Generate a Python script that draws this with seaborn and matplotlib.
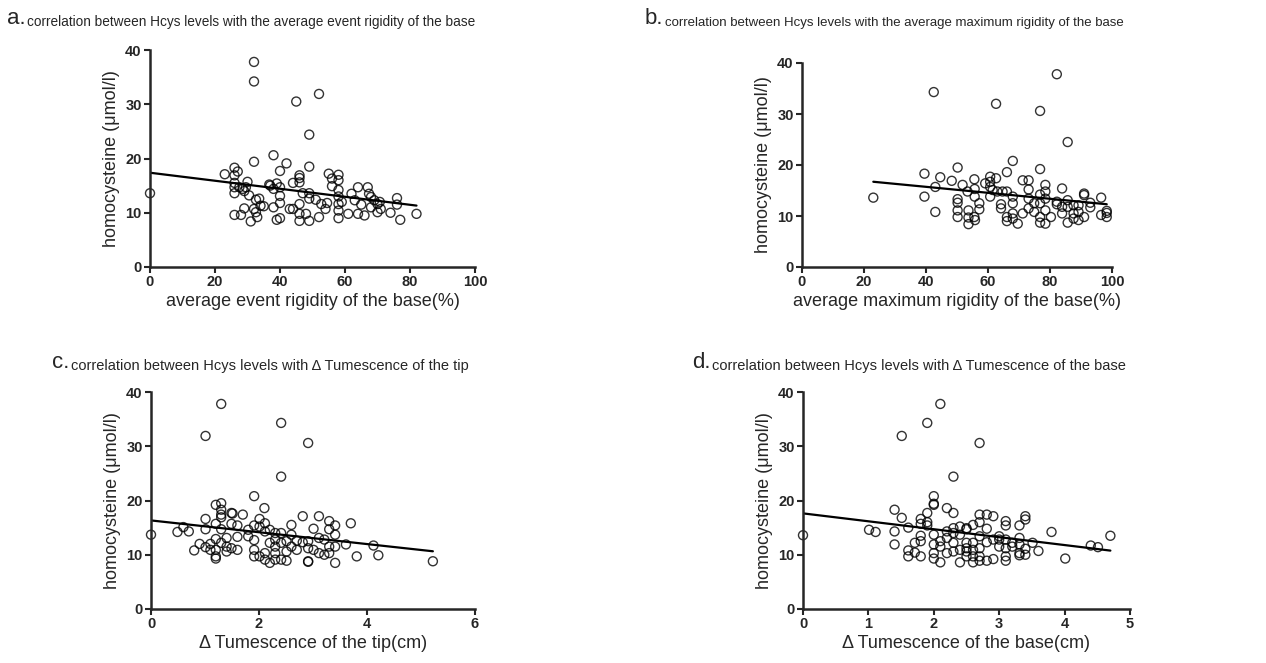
import numpy as np
import pandas as pd
import matplotlib
matplotlib.use("Agg")
import matplotlib.pyplot as plt
import seaborn as sns

# values
event_rigidity = [0, 32, 32, 45, 52, 49, 32, 38, 42, 40, 49, 23, 26, 27, 26, 26, 26, 26, 27.5, 28.5,
                  29.5, 30, 29, 30.5, 32.6, 33.6, 34, 35, 32, 32.6, 33, 31, 29, 28, 26, 36.7, 37, 38, 39, 40,
                  40, 40, 38, 39, 40, 43, 44, 44, 46, 46, 46, 47, 46, 46, 46, 48, 49, 49, 49, 51,
                  52, 52.7, 54, 54.5, 55, 56, 56, 58, 58, 58, 58, 58, 59, 58, 58, 61, 62, 63, 64, 64,
                  65, 66, 67, 67.4, 68, 68, 69, 70, 70.7, 70, 71, 74, 76, 76, 77, 82]
hcy_a = [13.6, 37.8, 34.2, 30.5, 31.9, 24.4, 19.4, 20.6, 19.1, 17.7, 18.5, 17.1, 18.3, 17.6, 16.9, 15.5, 13.6, 14.7, 14.7, 14.4,
         14.7, 15.7, 14.0, 13.2, 12.4, 12.6, 11.3, 11.2, 10.7, 10.1, 9.2, 8.4, 10.8, 9.6, 9.6, 15.2, 15.0, 14.4, 15.4, 14.7,
         13.1, 11.8, 11.0, 8.7, 9.0, 10.7, 10.7, 15.5, 16.9, 16.4, 15.6, 13.6, 11.6, 9.8, 8.5, 9.8, 8.5, 12.6, 13.6, 12.4,
         9.2, 11.6, 10.7, 11.8, 17.2, 16.3, 14.9, 17.0, 16.0, 14.2, 13.0, 11.6, 12.0, 10.4, 9.0, 9.8, 13.5, 12.3, 14.7, 9.8,
         11.5, 9.5, 14.7, 13.5, 12.9, 11.0, 12.3, 11.6, 12.0, 10.1, 10.7, 10.0, 11.5, 12.7, 8.7, 9.8]

max_rigidity = [23, 42.5, 62.6, 82.2, 76.8, 85.7, 68, 50.2, 39.5, 44.6, 48.3, 76.8, 66.1, 43, 39.5, 43, 51.8, 55.6, 55.7, 55.7,
                53.4, 50.2, 50.2, 50.2, 50.2, 53.7, 53.7, 53.7, 55.6, 55.8, 57.2, 57.2, 59.1, 60.7, 60.7, 60.7, 60.7, 61.5, 62.6, 63,
                64.7, 64.2, 64.2, 66.1, 66.1, 66.1, 68, 68, 68, 68, 69.6, 71.2, 71.2, 73.1, 73.1, 73.1, 73.1, 74.9, 74.9, 76.8,
                76.8, 76.8, 76.8, 78.5, 78.5, 78.5, 78.5, 78.5, 80.3, 82.2, 82.2, 83.9, 83.9, 83.9, 85.7, 85.7, 85.7, 87.6, 87.6, 87.6,
                89.2, 89.2, 89.2, 91, 91, 91, 93, 93, 96.5, 96.5, 98.3, 98.3, 98.3]
hcy_b = [13.6, 34.3, 32.0, 37.8, 30.6, 24.5, 20.8, 19.5, 18.3, 17.6, 16.9, 19.2, 18.6, 15.7, 13.8, 10.8, 16.1, 17.2, 15.3, 13.8,
         14.8, 13.3, 12.6, 11.1, 9.8, 11.1, 9.7, 8.4, 9.8, 9.2, 12.5, 11.3, 16.4, 17.7, 16.7, 15.7, 13.8, 15.1, 17.4, 14.8,
         14.8, 12.3, 11.5, 14.8, 9.8, 9.0, 13.8, 12.5, 10.5, 9.5, 8.5, 10.5, 17.0, 17.0, 15.2, 13.4, 11.5, 12.5, 10.8, 14.2,
         12.5, 9.8, 8.7, 16.1, 14.8, 13.4, 11.1, 8.5, 9.8, 12.3, 12.8, 15.4, 11.8, 10.5, 13.1, 11.8, 8.7, 12.1, 10.5, 9.5,
         12.1, 10.8, 9.2, 14.4, 14.1, 9.8, 12.6, 11.7, 13.6, 10.2, 11.0, 9.8, 10.6]

tip_tumescence = [0, 1.30, 1.01, 2.41, 2.91, 2.41, 1.91, 2.10, 1.20, 1.30, 1.30, 1.30, 1.30, 1.49, 1.51, 1.70, 1.01, 1.01, 0.49, 0.60,
                  0.70, 1.20, 1.30, 1.49, 1.60, 1.60, 1.40, 1.20, 1.30, 0.90, 1.01, 1.10, 1.10, 1.20, 0.80, 1.20, 1.20, 1.40, 1.40, 1.49,
                  1.60, 1.80, 1.80, 1.91, 1.91, 1.91, 1.91, 2.01, 2.01, 2.11, 2.11, 2.01, 2.11, 2.11, 2.20, 2.20, 2.20, 2.30, 2.30, 2.30,
                  2.30, 2.30, 2.41, 2.41, 2.41, 2.51, 2.51, 2.51, 2.60, 2.60, 2.60, 2.70, 2.70, 2.81, 2.81, 2.91, 2.91, 2.91, 2.91, 3.01,
                  3.01, 3.11, 3.11, 3.11, 3.21, 3.21, 3.30, 3.30, 3.30, 3.30, 3.41, 3.41, 3.41, 3.41, 3.61, 3.70, 3.81, 4.12, 4.21, 5.22]
hcy_c = [13.7, 37.8, 31.9, 34.3, 30.6, 24.4, 20.8, 18.6, 19.2, 19.5, 18.3, 17.4, 16.9, 17.7, 17.6, 17.4, 16.6, 14.7, 14.2, 15.1,
         14.3, 15.7, 14.7, 15.7, 15.4, 13.3, 13.1, 12.9, 12.2, 12.0, 11.4, 12.0, 10.9, 10.9, 10.8, 9.7, 9.3, 10.6, 11.5, 11.2,
         10.9, 14.6, 13.4, 15.4, 12.7, 10.9, 9.7, 16.6, 15.2, 15.8, 14.3, 9.7, 10.3, 9.1, 14.6, 12.2, 8.5, 14.0, 12.8, 11.5,
         10.3, 9.1, 14.0, 12.2, 9.1, 12.5, 10.6, 8.9, 15.5, 13.7, 11.5, 12.6, 10.9, 17.1, 12.3, 12.5, 11.2, 8.8, 8.7, 14.8,
         10.9, 17.1, 13.1, 10.3, 12.8, 10.0, 16.2, 14.7, 11.5, 10.3, 15.4, 13.7, 11.5, 8.5, 11.9, 15.8, 9.7, 11.7, 9.9, 8.8]

base_tumescence = [0, 2.10, 1.90, 1.51, 2.70, 2.30, 2.0, 2.0, 2.0, 2.20, 2.30, 1.40, 1.51, 1.90, 1.80, 1.80, 1.90, 1.90, 1.01, 1.11,
                   1.40, 1.61, 1.40, 1.61, 1.61, 1.71, 1.71, 1.80, 1.80, 1.80, 2.0, 2.0, 2.0, 2.0, 2.10, 2.10, 2.10, 2.20, 2.20, 2.20,
                   2.30, 2.30, 2.30, 2.30, 2.40, 2.40, 2.40, 2.40, 2.50, 2.50, 2.50, 2.50, 2.50, 2.50, 2.60, 2.60, 2.60, 2.60, 2.60, 2.70,
                   2.70, 2.70, 2.70, 2.70, 2.70, 2.81, 2.81, 2.81, 2.81, 2.91, 2.91, 2.91, 3.0, 3.0, 3.0, 3.10, 3.10, 3.10, 3.10, 3.10,
                   3.10, 3.20, 3.20, 3.31, 3.31, 3.31, 3.31, 3.31, 3.40, 3.40, 3.40, 3.40, 3.51, 3.60, 3.80, 4.01, 4.40, 4.51, 4.70]
hcy_d = [13.6, 37.8, 34.3, 31.9, 30.6, 24.4, 20.8, 19.4, 19.2, 18.6, 17.7, 18.3, 16.8, 17.7, 16.6, 15.7, 16.0, 15.4, 14.6, 14.2,
         14.3, 15.0, 11.9, 10.8, 9.7, 12.2, 10.4, 13.5, 12.5, 9.7, 13.7, 11.9, 10.3, 9.3, 12.5, 11.5, 8.6, 14.3, 13.1, 10.3,
         14.9, 14.0, 12.2, 10.6, 15.2, 13.7, 10.9, 8.6, 14.9, 14.7, 12.2, 11.2, 10.6, 9.7, 15.5, 12.2, 10.9, 9.7, 8.6, 17.4,
         16.0, 13.4, 11.2, 9.7, 8.9, 17.4, 14.8, 12.3, 8.9, 17.1, 12.8, 9.2, 13.4, 12.8, 11.5, 16.2, 15.4, 12.8, 11.2, 9.7,
         8.9, 12.2, 11.5, 15.4, 13.1, 11.9, 10.3, 9.9, 17.1, 16.5, 11.1, 10.0, 12.2, 10.7, 14.2, 9.3, 11.7, 11.4, 13.5]

panels = [
    ("a.", "correlation between Hcys levels with the average event rigidity of the base",
     event_rigidity, hcy_a, "average event rigidity of the base(%)", [0, 20, 40, 60, 80, 100]),
    ("b.", "correlation between Hcys levels with the average maximum rigidity of the base",
     max_rigidity, hcy_b, "average maximum rigidity of the base(%)", [0, 20, 40, 60, 80, 100]),
    ("c.", "correlation between Hcys levels with \u0394 Tumescence of the tip",
     tip_tumescence, hcy_c, "\u0394 Tumescence of the tip(cm)", [0, 2, 4, 6]),
    ("d.", "correlation between Hcys levels with \u0394 Tumescence of the base",
     base_tumescence, hcy_d, "\u0394 Tumescence of the base(cm)", [0, 1, 2, 3, 4, 5]),
]

sns.set_style("ticks")
plt.rcParams['font.family'] = ['Liberation Sans', 'DejaVu Sans']

W, H = 1266, 663
fig = plt.figure(figsize=(W / 100, H / 100), dpi=100)

# axes boxes in pixels: left, top, right, bottom
boxes = [(150, 50, 475, 267), (802, 63, 1112, 267), (151, 392, 475, 609), (803, 392, 1130, 609)]
title_pos = [(7, 24), (645, 24), (52, 368), (692, 368)]
title_size = [9.8, 9.5, 10.5, 10.5]

for (letter, title, x, y, xlabel, xticks), box, tpos, tsize in zip(panels, boxes, title_pos, title_size):
    l, t, r, b = box
    ax = fig.add_axes([l / W, (H - b) / H, (r - l) / W, (b - t) / H])
    df = pd.DataFrame({"x": x, "y": y})
    sns.regplot(data=df, x="x", y="y", ax=ax, ci=None, color="black",
                scatter_kws={"facecolors": "none", "edgecolors": "black", "s": 42, "linewidths": 1.0},
                line_kws={"linewidth": 1.6})
    ax.set_xlim(xticks[0], xticks[-1])
    ax.set_ylim(0, 40)
    ax.set_xticks(xticks)
    ax.set_yticks([0, 10, 20, 30, 40])
    ax.set_xticklabels([str(v) for v in xticks], fontweight="bold", fontsize=10.5)
    ax.set_yticklabels(["0", "10", "20", "30", "40"], fontweight="bold", fontsize=10.5)
    ax.set_xlabel(xlabel, fontsize=13, labelpad=3)
    ax.set_ylabel("homocysteine (\u03bcmol/l)", fontsize=13)
    for s in ["top", "right"]:
        ax.spines[s].set_visible(False)
    for s in ["left", "bottom"]:
        ax.spines[s].set_linewidth(1.8)
    ax.tick_params(direction="out", length=4, width=1.5, pad=2)
    for c in ax.collections:
        c.set_clip_on(False)

    t1 = fig.text(tpos[0] / W, (H - tpos[1]) / H, letter, fontsize=16, va="baseline")
    plt.annotate(title, xy=(1, 0), xycoords=t1, xytext=(1, 0), textcoords="offset points",
                 fontsize=tsize, va="bottom", annotation_clip=False)

fig.savefig("out.png", dpi=100)
